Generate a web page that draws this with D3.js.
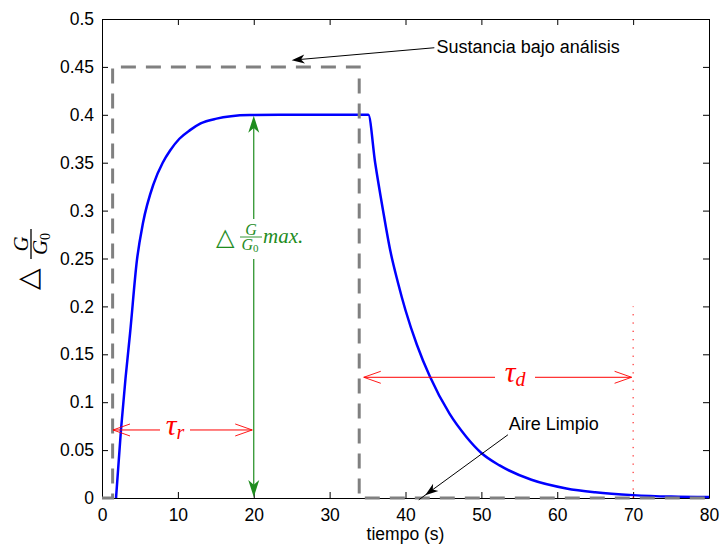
<!DOCTYPE html>
<html>
<head>
<meta charset="utf-8">
<script src="https://cdn.jsdelivr.net/npm/d3@7"></script>
<style>
  body { margin: 0; background: #fff; }
  svg { display: block; }
  .tick text { font-family: "Liberation Sans", Arial, Helvetica, sans-serif; font-size: 17.5px; fill: #000; }
</style>
</head>
<body>
<svg id="chart" width="721" height="545"></svg>
<script>
// response curve
const tiempo = [1.85, 2.5, 3.1, 3.7, 4.6, 5.4, 6.8, 8, 9, 10.2, 11.6, 13, 15.1, 17, 19.5, 25, 30, 35.1,
                36, 37, 38, 39, 40, 41.5, 43.2, 45.8, 48, 50, 52.4, 56.6, 61.2, 65, 70, 75, 80];
const deltaG = [0, 0.071, 0.125, 0.172, 0.248, 0.287, 0.328, 0.35, 0.363, 0.375, 0.384, 0.391, 0.396, 0.3985, 0.3997, 0.4, 0.4, 0.4,
                0.35, 0.302, 0.258, 0.225, 0.196, 0.16, 0.127, 0.088, 0.064, 0.047, 0.034, 0.019, 0.010, 0.006, 0.003, 0.0015, 0.001];

// gas exposure window (grey dashed)
const exposicionT = [0, 1.4, 1.4, 33.9, 33.9, 80];
const exposicionV = [0, 0, 0.45, 0.45, 0, 0];

const xTicks = [0, 10, 20, 30, 40, 50, 60, 70, 80];
const yTicks = [0, 0.05, 0.1, 0.15, 0.2, 0.25, 0.3, 0.35, 0.4, 0.45, 0.5];

const svg = d3.select("#chart");
const margin = {top: 19, right: 12, bottom: 47, left: 102};
const width = 721 - margin.left - margin.right;
const height = 545 - margin.top - margin.bottom;

const x = d3.scaleLinear().domain([0, 80]).range([margin.left, margin.left + width]);
const y = d3.scaleLinear().domain([0, 0.5]).range([margin.top + height, margin.top]);

const fmt = v => String(+v.toFixed(2));

// axes, MATLAB box style with inward ticks
svg.append("g")
  .attr("transform", `translate(0,${y(0)})`)
  .call(d3.axisBottom(x).tickValues(xTicks).tickFormat(fmt).tickSize(-6).tickSizeOuter(0).tickPadding(11));
svg.append("g")
  .attr("transform", `translate(${x(0)},0)`)
  .call(d3.axisLeft(y).tickValues(yTicks).tickFormat(fmt).tickSize(-6).tickSizeOuter(0).tickPadding(8));
svg.append("g")
  .attr("transform", `translate(0,${y(0.5)})`)
  .call(d3.axisTop(x).tickValues(xTicks).tickFormat("").tickSize(-6).tickSizeOuter(0));
svg.append("g")
  .attr("transform", `translate(${x(80)},0)`)
  .call(d3.axisRight(y).tickValues(yTicks).tickFormat("").tickSize(-6).tickSizeOuter(0));
svg.selectAll(".domain, .tick line").attr("stroke", "#000").attr("stroke-width", 1);

// curve
const line = d3.line().x(d => x(d[0])).y(d => y(d[1])).curve(d3.curveMonotoneX);
svg.append("path")
  .datum(tiempo.map((t, i) => [t, deltaG[i]]))
  .attr("d", line)
  .attr("fill", "none")
  .attr("stroke", "#0000ff")
  .attr("stroke-width", 2.5);

const linear = d3.line().x(d => x(d[0])).y(d => y(d[1]));
svg.append("path")
  .datum(exposicionT.map((t, i) => [t, exposicionV[i]]))
  .attr("d", linear)
  .attr("fill", "none")
  .attr("stroke", "#808080")
  .attr("stroke-width", 3)
  .attr("stroke-dasharray", "15,10");

// red dotted marker at t = 70
svg.append("line")
  .attr("x1", x(70)).attr("x2", x(70))
  .attr("y1", y(0)).attr("y2", y(0.2))
  .attr("stroke", "#ff0000").attr("stroke-width", 1)
  .attr("stroke-dasharray", "1.3,7");

// arrowheads
function filledHead(g, px, py, ang, L, W, color) {
  g.append("path")
    .attr("d", `M0,0L${-L},${-W}L${-L * 0.72},0L${-L},${W}Z`)
    .attr("transform", `translate(${px},${py}) rotate(${ang})`)
    .attr("fill", color);
}
function openHead(g, px, py, ang, color) {
  g.append("path")
    .attr("d", "M-17,-6L0,0L-17,6")
    .attr("transform", `translate(${px},${py}) rotate(${ang})`)
    .attr("fill", "none").attr("stroke", color).attr("stroke-width", 0.9);
}

const serif = "'Liberation Serif', 'DejaVu Serif', serif";
const sans = "'Liberation Sans', Arial, Helvetica, sans-serif";

// tau_r
const red = "#ff0000";
const ann = svg.append("g");
const yr = y(0.071);
ann.append("line").attr("x1", x(1.45)).attr("x2", 160).attr("y1", yr).attr("y2", yr).attr("stroke", red);
ann.append("line").attr("x1", 190).attr("x2", x(19.8)).attr("y1", yr).attr("y2", yr).attr("stroke", red);
openHead(ann, x(1.45), yr, 180, red);
openHead(ann, x(19.8), yr, 0, red);
const tr = ann.append("text").attr("x", 175).attr("y", yr + 5).attr("text-anchor", "middle")
  .attr("font-family", serif).attr("font-style", "italic").attr("fill", red).attr("font-size", 30);
tr.append("tspan").text("τ");
tr.append("tspan").attr("font-size", 20).attr("dy", 4).text("r");

// tau_d
const yd = y(0.126);
ann.append("line").attr("x1", x(34.5)).attr("x2", 495).attr("y1", yd).attr("y2", yd).attr("stroke", red);
ann.append("line").attr("x1", 535).attr("x2", x(69.8)).attr("y1", yd).attr("y2", yd).attr("stroke", red);
openHead(ann, x(34.5), yd, 180, red);
openHead(ann, x(69.8), yd, 0, red);
const td = ann.append("text").attr("x", 515).attr("y", yd + 5).attr("text-anchor", "middle")
  .attr("font-family", serif).attr("font-style", "italic").attr("fill", red).attr("font-size", 30);
td.append("tspan").text("τ");
td.append("tspan").attr("font-size", 20).attr("dy", 4).text("d");

// green max arrow
const green = "#1e8c1e";
const xg = x(20);
ann.append("line").attr("x1", xg).attr("x2", xg).attr("y1", y(0.4) + 8).attr("y2", 219).attr("stroke", green).attr("stroke-width", 1.2);
ann.append("line").attr("x1", xg).attr("x2", xg).attr("y1", 259).attr("y2", y(0) - 8).attr("stroke", green).attr("stroke-width", 1.2);
filledHead(ann, xg, y(0.4) + 1, -90, 17, 5.5, green);
filledHead(ann, xg, y(0) - 1, 90, 17, 5.5, green);
const gl = ann.append("g").attr("fill", green).attr("font-family", serif);
gl.append("text").attr("x", 216).attr("y", 245).attr("font-size", 24).text("△");
gl.append("line").attr("x1", 240).attr("x2", 262).attr("y1", 237).attr("y2", 237).attr("stroke", green).attr("stroke-width", 0.9);
gl.append("text").attr("x", 251).attr("y", 234.5).attr("text-anchor", "middle").attr("font-style", "italic").attr("font-size", 16).text("G");
const g0 = gl.append("text").attr("x", 250).attr("y", 250).attr("text-anchor", "middle").attr("font-style", "italic").attr("font-size", 16);
g0.append("tspan").text("G");
g0.append("tspan").attr("font-style", "normal").attr("font-size", 11).attr("dy", 2).text("0");
gl.append("text").attr("x", 263).attr("y", 243).attr("font-style", "italic").attr("font-size", 21).text("max.");

// black annotations
ann.append("line").attr("x1", x(43.8)).attr("y1", y(0.47)).attr("x2", x(25) + 8).attr("y2", y(0.457) - 0.7).attr("stroke", "#000");
filledHead(ann, x(25), y(0.457), 180 + Math.atan2(y(0.47) - y(0.457), x(43.8) - x(25)) * 180 / Math.PI, 13, 4.5, "#000");
ann.append("text").attr("x", x(44.1)).attr("y", y(0.4645)).attr("font-family", sans).attr("font-size", 18).attr("fill", "#000")
  .text("Sustancia bajo análisis");

const a0 = [x(53.5), y(0.066)], a1 = [x(42.6), y(0.003)];
const ang = Math.atan2(a1[1] - a0[1], a1[0] - a0[0]) * 180 / Math.PI;
ann.append("line").attr("x1", a0[0]).attr("y1", a0[1]).attr("x2", a1[0] + 8 * Math.cos(ang * Math.PI / 180)).attr("y2", a1[1] - 8 * Math.sin(-ang * Math.PI / 180)).attr("stroke", "#000");
filledHead(ann, a1[0], a1[1], ang, 13, 4.5, "#000");
ann.append("text").attr("x", x(53.6)).attr("y", y(0.071)).attr("font-family", sans).attr("font-size", 18).attr("fill", "#000")
  .text("Aire Limpio");

// axis labels
svg.append("text").attr("x", x(40)).attr("y", 540).attr("text-anchor", "middle")
  .attr("font-family", sans).attr("font-size", 17.5).text("tiempo (s)");

const yl = svg.append("g").attr("transform", "translate(31,259) rotate(-90)").attr("font-family", serif);
yl.append("text").attr("x", -31).attr("y", 6).attr("font-size", 28).text("△");
yl.append("line").attr("x1", 0).attr("x2", 30).attr("y1", 0).attr("y2", 0).attr("stroke", "#000").attr("stroke-width", 1.3);
yl.append("text").attr("x", 15).attr("y", -3).attr("text-anchor", "middle").attr("font-style", "italic").attr("font-size", 21).text("G");
const yg0 = yl.append("text").attr("x", 15).attr("y", 16).attr("text-anchor", "middle").attr("font-style", "italic").attr("font-size", 21);
yg0.append("tspan").text("G");
yg0.append("tspan").attr("font-style", "normal").attr("font-size", 14).attr("dy", 3).text("0");
</script>
</body>
</html>
